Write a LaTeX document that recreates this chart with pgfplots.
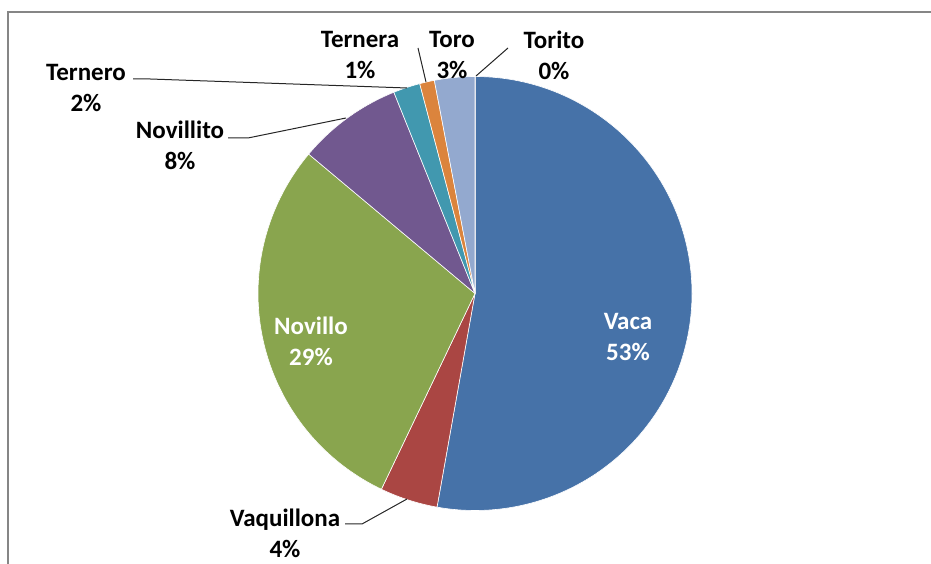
\documentclass[border=0pt]{standalone}
\usepackage{pgfplots}
\pgfplotsset{compat=1.18}
\usepackage{pgfplotstable}
\usepackage{fontspec}
\setmainfont{Carlito}

\definecolor{cVaca}{HTML}{4672A8}
\definecolor{cVaquillona}{HTML}{AA4643}
\definecolor{cNovillo}{HTML}{89A54E}
\definecolor{cNovillito}{HTML}{71588F}
\definecolor{cTernero}{HTML}{4198AF}
\definecolor{cTernera}{HTML}{DB843D}
\definecolor{cToro}{HTML}{93A9CF}
\definecolor{cTorito}{HTML}{A47D7C}
\definecolor{frame}{HTML}{868686}

\tikzset{lbl/.style={font=\fontsize{25}{31}\selectfont\bfseries, align=center, inner sep=0pt}}

% shares in percent, clockwise from 12 o'clock
\pgfplotstableread[col sep=comma]{
name,value,color
Vaca,52.8,cVaca
Vaquillona,4.3,cVaquillona
Novillo,29.0,cNovillo
Novillito,7.8,cNovillito
Ternero,2.0,cTernero
Ternera,1.1,cTernera
Toro,3.0,cToro
Torito,0.0,cTorito
}\piedata

\begin{document}
\begin{tikzpicture}
\begin{axis}[
  x=1pt, y=1pt,
  xmin=0, xmax=931, ymin=0, ymax=564,
  hide axis, clip=false,
]
% outer frame
\draw[frame, line width=2.5pt] (axis cs:931,552) -- (axis cs:8,552) -- (axis cs:8,0);

% slices
\pgfplotstablegetrowsof{\piedata}
\pgfmathtruncatemacro\nrows{\pgfplotsretval-1}
\def\cum{0}
\pgfplotsforeachungrouped \i in {0,...,\nrows}{
  \pgfplotstablegetelem{\i}{value}\of\piedata \let\v\pgfplotsretval
  \pgfplotstablegetelem{\i}{color}\of\piedata \let\c\pgfplotsretval
  \pgfmathsetmacro\a{90-3.6*\cum}
  \pgfmathsetmacro\b{90-3.6*(\cum+\v)}
  \edef\temp{\noexpand\fill[\c, draw=white, line width=0.6pt]
    (axis cs:475,270.5) -- ++(\a:217pt) arc[start angle=\a, end angle=\b, radius=217pt] -- cycle;}
  \temp
  \pgfmathsetmacro\cum{\cum+\v}
}

% leader lines
\draw[black!85, line width=1pt] (axis cs:133,485) -- (axis cs:150,485) -- (axis cs:407,476);
\draw[black!85, line width=1pt] (axis cs:228,426) -- (axis cs:248,426) -- (axis cs:346,446);
\draw[black!85, line width=1pt] (axis cs:418,516) -- (axis cs:426,482);
\draw[black!85, line width=1pt] (axis cs:508,516) -- (axis cs:476,488);
\draw[black!85, line width=1pt] (axis cs:345,40) -- (axis cs:362,40) -- (axis cs:407,65);

% labels
\node[lbl, white] at (axis cs:628,227) {Vaca\\53\%};
\node[lbl, white] at (axis cs:311,223) {Novillo\\29\%};
\node[lbl] at (axis cs:285,31) {Vaquillona\\4\%};
\node[lbl] at (axis cs:180,419) {Novillito\\8\%};
\node[lbl] at (axis cs:86,476) {Ternero\\2\%};
\node[lbl] at (axis cs:360,509) {Ternera\\1\%};
\node[lbl] at (axis cs:452,509) {Toro\\3\%};
\node[lbl] at (axis cs:554,509) {Torito\\0\%};
\end{axis}
\pgfresetboundingbox
\path[use as bounding box] (current axis.south west) rectangle (current axis.north east);
\end{tikzpicture}
\end{document}
